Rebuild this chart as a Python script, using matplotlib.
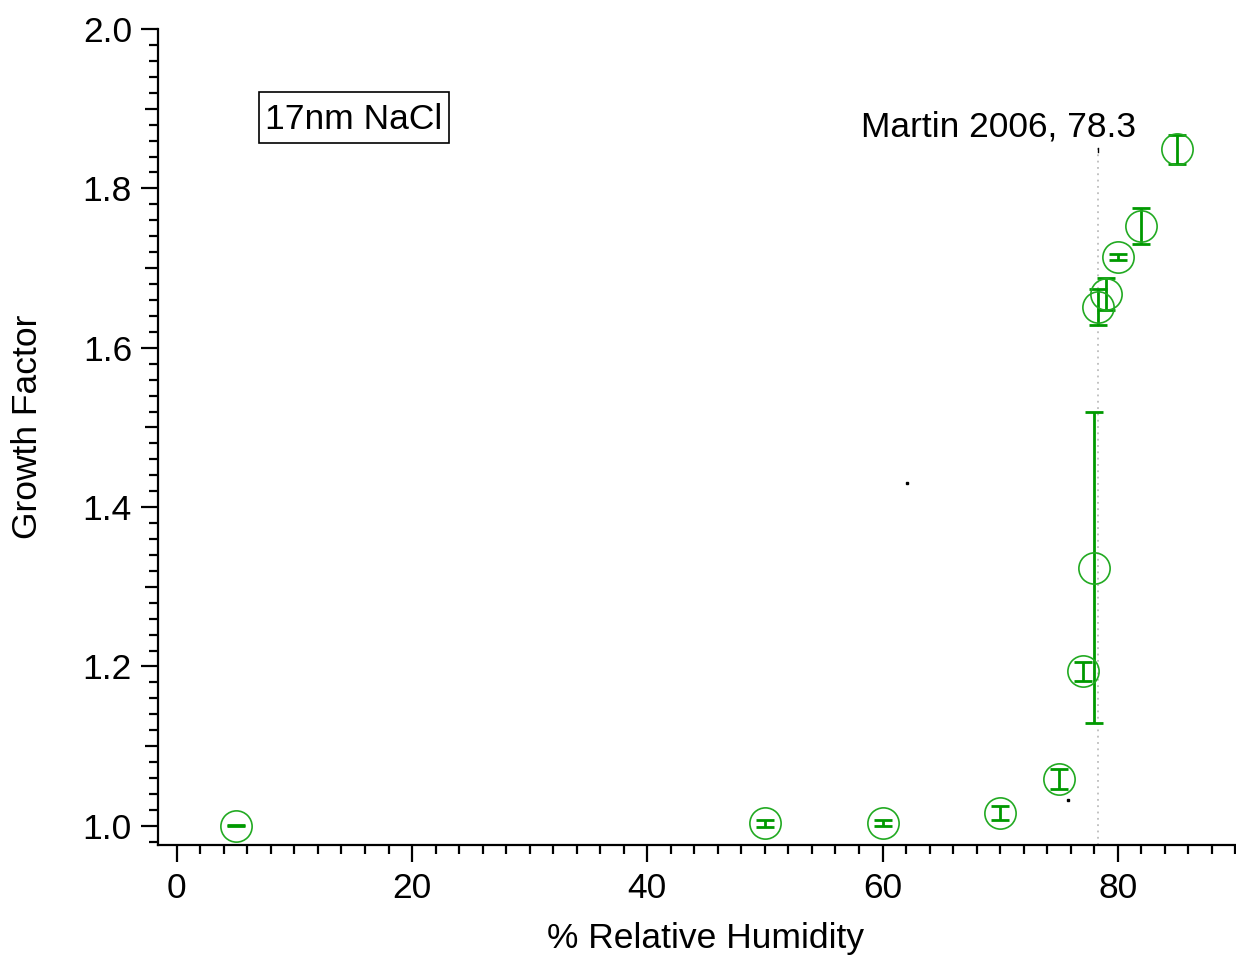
import numpy as np
import matplotlib
matplotlib.use('Agg')
from matplotlib import pyplot as plt
from matplotlib.patches import Rectangle
from matplotlib.ticker import MultipleLocator, FuncFormatter

# growth factor data, 17nm NaCl
rh = [5, 50, 60, 70, 75, 77, 78, 78.3, 79, 80, 82, 85]
gf = [1.000, 1.003, 1.004, 1.016, 1.059, 1.194, 1.324, 1.651, 1.668, 1.714, 1.753, 1.849]
gf_err = [0.0005, 0.004, 0.004, 0.0085, 0.013, 0.012, 0.195, 0.023, 0.020, 0.0036, 0.023, 0.018]

drh_label = 'Martin 2006, 78.3'
drh = 78.3
stray_x = [62.1, 75.8]
stray_y = [1.430, 1.032]

plt.rcParams['font.family'] = ['Liberation Sans', 'DejaVu Sans']
fs = 25.5

fig = plt.figure(figsize=(12.36, 9.6), dpi=100)
ax = fig.add_axes([158/1236, 115/960, 1078/1236, 816/960])

ax.plot([drh, drh], [0.976, 1.851], ls=(0, (1, 2.5)), color='#bdbdbd', lw=1.3)
ax.plot([drh, drh], [1.846, 1.851], color='k', lw=1)

ax.errorbar(rh, gf, yerr=gf_err, fmt='none', ecolor='#009900', elinewidth=2,
            capsize=6.5, capthick=2)
ax.plot(rh, gf, 'o', ms=22.5, mfc='none', mec='#22aa22', mew=1.2)
ax.plot(stray_x, stray_y, 's', ms=1.5, color='k')

ax.text(81.6, 1.877, drh_label, ha='right', va='center', fontsize=fs)
# boxed annotation
ax.add_patch(Rectangle((0.0937, 0.860), 0.1763, 0.063, transform=ax.transAxes,
                       fill=False, ec='k', lw=1.2))
ax.text(0.0993, 0.8775, '17nm NaCl', transform=ax.transAxes, ha='left',
        va='baseline', fontsize=fs)

ax.set_xlim(-1.6, 90.05)
ax.set_ylim(0.976, 2.0)
ax.xaxis.set_major_locator(MultipleLocator(20))
ax.xaxis.set_minor_locator(MultipleLocator(2))
ax.yaxis.set_major_locator(MultipleLocator(0.1))
ax.yaxis.set_minor_locator(MultipleLocator(0.02))
ax.yaxis.set_major_formatter(FuncFormatter(
    lambda v, p: '%.1f' % v if round(v * 10) % 2 == 0 else ''))

for s in ['top', 'right']:
    ax.spines[s].set_visible(False)
for s in ['left', 'bottom']:
    ax.spines[s].set_linewidth(1.6)

ax.tick_params(axis='x', which='major', length=12.3, width=1.6, labelsize=fs, pad=6.8)
ax.tick_params(axis='x', which='minor', length=6.5, width=1.6)
ax.tick_params(axis='y', which='major', length=12.3, width=1.6, labelsize=fs, pad=6.5)
ax.tick_params(axis='y', which='minor', length=6.5, width=1.6)

# shorter ticks at unlabelled tenths
for loc, tick in zip(ax.yaxis.get_majorticklocs(), ax.yaxis.get_major_ticks()):
    if round(loc * 10) % 2 == 1:
        tick.tick1line.set_markersize(9.4)

ax.set_xlabel('% Relative Humidity', fontsize=fs, va='center')
ax.xaxis.set_label_coords(0.508, -0.114)
ax.set_ylabel('Growth Factor', fontsize=fs, va='center')
ax.yaxis.set_label_coords(-0.1206, 0.512)

plt.savefig('out.png', dpi=100)
